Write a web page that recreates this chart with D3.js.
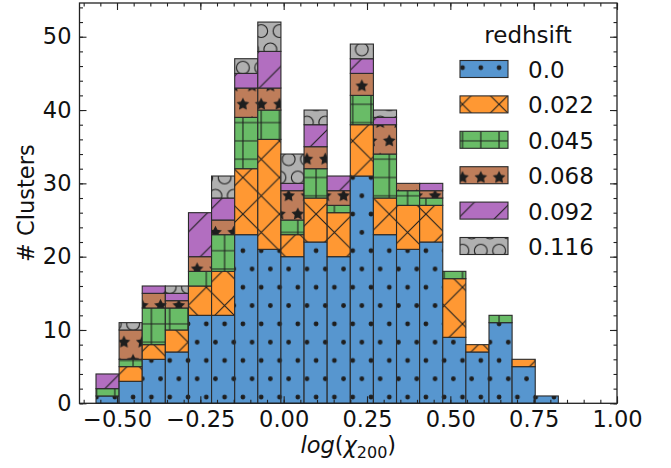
<!DOCTYPE html>
<html lang="en">
<head>
<meta charset="UTF-8">
<title>Clusters by log(chi200)</title>
<script src="https://d3js.org/d3.v7.min.js"></script>
<style>
    body { margin: 0; background: white; }
    svg text { font-family: "DejaVu Sans", sans-serif; fill: #111; }
    .axis path { display: none; }
    .axis line { stroke: #222; stroke-width: 1.1; }
    .axis text { font-size: 22.5px; font-family: "DejaVu Sans", sans-serif; fill: #111; }
</style>
</head>
<body>
<svg id="chart" width="671" height="468"></svg>
<script>
// histogram bin edges (log chi_200)
const binEdges = [-0.563, -0.4937, -0.4243, -0.355, -0.2856, -0.2163, -0.1469, -0.0776, -0.0082,
                  0.0612, 0.1305, 0.1999, 0.2692, 0.3386, 0.4079, 0.4773, 0.5466, 0.616, 0.6853, 0.7547, 0.824];

// counts per bin, one array per redshift (stacked bottom to top)
const z000 = [1, 3, 6, 7, 12, 12, 23, 21, 20, 22, 20, 31, 23, 21, 22, 9, 7, 11, 5, 1];
const z022 = [0, 2, 2, 3, 4, 6, 9, 15, 3, 6, 6, 7, 5, 6, 5, 8, 1, 0, 1, 0];
const z045 = [1, 1, 5, 3, 2, 5, 7, 4, 2, 4, 1, 4, 6, 2, 1, 1, 0, 1, 0, 0];
const z068 = [0, 4, 2, 1, 2, 2, 4, 3, 4, 3, 2, 3, 4, 1, 1, 0, 0, 0, 0, 0];
const z092 = [2, 0, 1, 1, 6, 3, 2, 5, 1, 3, 2, 2, 1, 0, 1, 0, 0, 0, 0, 0];
const z116 = [0, 1, 0, 1, 0, 3, 2, 4, 4, 2, 0, 2, 1, 0, 0, 0, 0, 0, 0, 0];

const seriesLabels = ["0.0", "0.022", "0.045", "0.068", "0.092", "0.116"];
const seriesValues = [z000, z022, z045, z068, z092, z116];
const colors = ["#5796cf", "#ff9833", "#69bc67", "#be7d5a", "#b26ec0", "#b0b0b0"];
const hatches = ["dots", "cross", "grid", "stars", "slash", "rings"];

const xTicks = [-0.5, -0.25, 0, 0.25, 0.5, 0.75, 1.0];
const yTicks = [0, 10, 20, 30, 40, 50];

const svg = d3.select("#chart");
const frame = {left: 79.5, right: 617, top: 3, bottom: 403.3};

const x = d3.scaleLinear().domain([-0.6125, 1.0]).range([frame.left, frame.right]);
const y = d3.scaleLinear().domain([0, 54.6]).range([frame.bottom, frame.top]);

// ---- hatch patterns (anchored to one lattice like matplotlib) ----
const u = 18.3, ink = "#1e1e1e";
const ax = 352.7, ay = 250.7;
const defs = svg.append("defs");

function starPath(cx, cy, R) {
    const pts = [];
    for (let k = 0; k < 10; k++) {
        const r = k % 2 === 0 ? R : R * 0.5;
        const a = -Math.PI / 2 + k * Math.PI / 5;
        pts.push([cx + r * Math.cos(a), cy + r * Math.sin(a)]);
    }
    return "M" + pts.map(p => p.join(",")).join("L") + "Z";
}

hatches.forEach((h, i) => {
    const lattice = ["dots", "stars", "rings"].includes(h);
    const w = lattice ? u : (h === "grid" ? u : 2 * u);
    const ht = lattice ? 2 * u : (h === "grid" ? u : 2 * u);
    const p = defs.append("pattern").attr("id", "hatch" + i)
        .attr("patternUnits", "userSpaceOnUse")
        .attr("x", ax).attr("y", ay).attr("width", w).attr("height", ht);
    p.append("rect").attr("width", w).attr("height", ht).attr("fill", colors[i]);
    const spots = [[0, 0], [u, 0], [0, 2 * u], [u, 2 * u], [u / 2, u]];
    if (h === "dots") {
        spots.forEach(s => p.append("circle").attr("cx", s[0]).attr("cy", s[1]).attr("r", 2.4).attr("fill", ink));
    } else if (h === "stars") {
        spots.forEach(s => p.append("path").attr("d", starPath(s[0], s[1], u / 3 + 0.6)).attr("fill", ink));
    } else if (h === "rings") {
        spots.forEach(s => p.append("circle").attr("cx", s[0]).attr("cy", s[1]).attr("r", 0.35 * u)
            .attr("fill", "none").attr("stroke", ink).attr("stroke-width", 1.1));
    } else if (h === "grid") {
        p.append("path").attr("d", `M0,0H${w}M0,${ht}H${w}M0,0V${ht}M${w},0V${ht}`)
            .attr("stroke", ink).attr("stroke-width", 1.1);
    } else if (h === "slash") {
        p.append("path").attr("d", `M-2,${w + 2}L${w + 2},-2M-2,2L2,-2M${w - 2},${w + 2}L${w + 2},${w - 2}`)
            .attr("stroke", ink).attr("stroke-width", 1.1);
    } else if (h === "cross") {
        p.append("path").attr("d", `M-2,${w + 2}L${w + 2},-2M-2,-2L${w + 2},${w + 2}`)
            .attr("stroke", ink).attr("stroke-width", 1.1);
    }
});

// ---- stacked bars ----
const bars = svg.append("g");
binEdges.slice(0, -1).forEach((left, b) => {
    let base = 0;
    seriesValues.forEach((vals, s) => {
        const v = vals[b];
        if (v > 0) {
            bars.append("rect")
                .attr("x", x(left)).attr("width", x(binEdges[b + 1]) - x(left))
                .attr("y", y(base + v)).attr("height", y(base) - y(base + v))
                .attr("fill", `url(#hatch${s})`)
                .attr("stroke", "#2a2a2a").attr("stroke-width", 1.1);
        }
        base += v;
    });
});

// ---- axes, ticks pointing inward on all sides ----
const fmtX = d3.format(".2f");
const xMinor = d3.range(-60, 101, 5).map(d => d / 100);
const yMinor = d3.range(0, 55, 2);

svg.append("g").attr("class", "axis").attr("transform", `translate(0,${frame.bottom})`)
    .call(d3.axisBottom(x).tickValues(xMinor).tickSize(-3.5).tickFormat(""));
svg.append("g").attr("class", "axis").attr("transform", `translate(0,${frame.bottom})`)
    .call(d3.axisBottom(x).tickValues(xTicks).tickSize(-7).tickPadding(8).tickFormat(fmtX));
svg.append("g").attr("class", "axis").attr("transform", `translate(0,${frame.top})`)
    .call(d3.axisTop(x).tickValues(xMinor).tickSize(-3.5).tickFormat(""));
svg.append("g").attr("class", "axis").attr("transform", `translate(0,${frame.top})`)
    .call(d3.axisTop(x).tickValues(xTicks).tickSize(-7).tickFormat(""));

svg.append("g").attr("class", "axis").attr("transform", `translate(${frame.left},0)`)
    .call(d3.axisLeft(y).tickValues(yMinor).tickSize(-3.5).tickFormat(""));
svg.append("g").attr("class", "axis").attr("transform", `translate(${frame.left},0)`)
    .call(d3.axisLeft(y).tickValues(yTicks).tickSize(-7).tickPadding(8));
svg.append("g").attr("class", "axis").attr("transform", `translate(${frame.right},0)`)
    .call(d3.axisRight(y).tickValues(yMinor).tickSize(-3.5).tickFormat(""));
svg.append("g").attr("class", "axis").attr("transform", `translate(${frame.right},0)`)
    .call(d3.axisRight(y).tickValues(yTicks).tickSize(-7).tickFormat(""));

svg.append("rect")
    .attr("x", frame.left).attr("y", frame.top)
    .attr("width", frame.right - frame.left).attr("height", frame.bottom - frame.top)
    .attr("fill", "none").attr("stroke", "#222").attr("stroke-width", 1.3);

// axis labels
const xl = svg.append("text").attr("x", (frame.left + frame.right) / 2).attr("y", 453)
    .attr("text-anchor", "middle").style("font-size", "22.5px");
xl.append("tspan").attr("font-style", "italic").text("log");
xl.append("tspan").text("(");
xl.append("tspan").attr("font-style", "italic").text("χ");
xl.append("tspan").attr("dy", 5).style("font-size", "16px").text("200");
xl.append("tspan").attr("dy", -5).text(")");

svg.append("text").attr("transform", `translate(34,${(frame.top + frame.bottom) / 2}) rotate(-90)`)
    .attr("text-anchor", "middle").style("font-size", "22.5px").text("# Clusters");

// ---- legend ----
const legend = svg.append("g");
legend.append("text").attr("x", 528).attr("y", 43).attr("text-anchor", "middle")
    .style("font-size", "23px").text("redhsift");
seriesLabels.forEach((lab, i) => {
    const cy = 69 + i * 35.4;
    legend.append("rect").attr("x", 460).attr("y", cy - 8.5).attr("width", 48).attr("height", 17)
        .attr("fill", `url(#hatch${i})`).attr("stroke", "#2a2a2a").attr("stroke-width", 1.1);
    legend.append("text").attr("x", 528).attr("y", cy + 9).style("font-size", "23px").text(lab);
});
</script>
</body>
</html>
